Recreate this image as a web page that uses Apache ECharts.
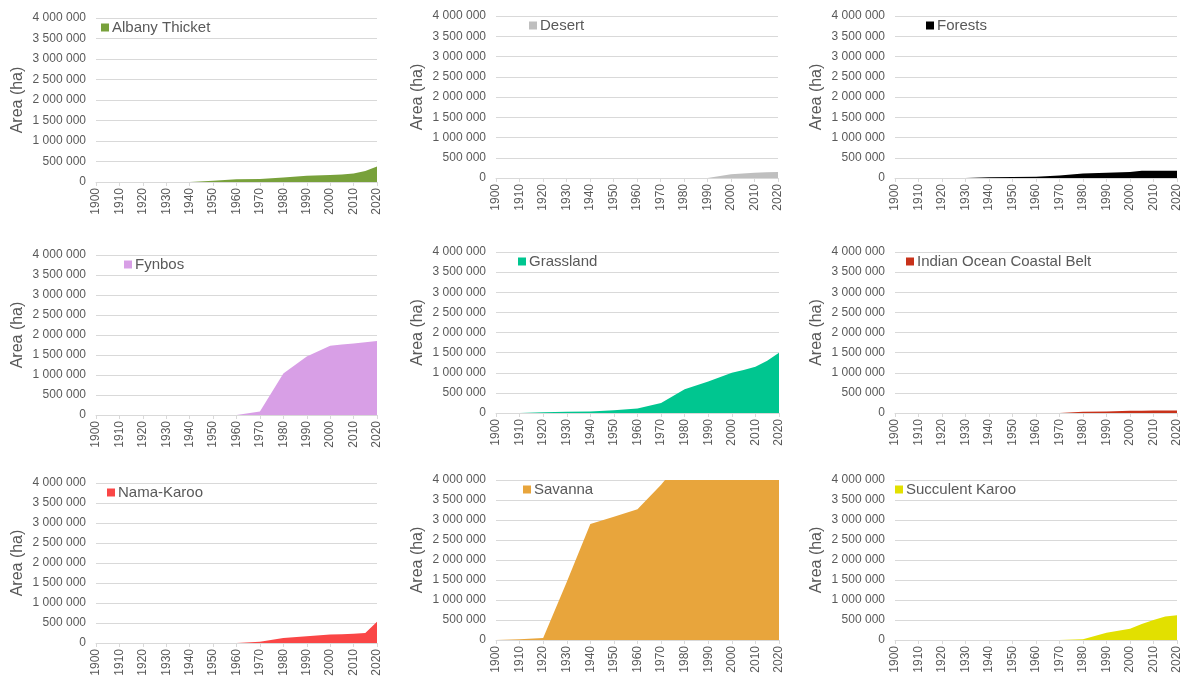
<!DOCTYPE html>
<html>
<head>
<meta charset="utf-8">
<script src="https://cdn.jsdelivr.net/npm/echarts@6/dist/echarts.min.js"></script>
<style>
  html, body { margin: 0; padding: 0; background: #fff; }
  #chart { width: 1184px; height: 680px; }
</style>
</head>
<body>
<div id="chart"></div>
<script>
// sample years shared by every biome series
const years = [1900, 1910, 1920, 1930, 1940, 1950, 1960, 1970, 1980, 1990, 2000, 2005, 2010, 2015, 2020];

const biomeNames = ['Albany Thicket', 'Desert', 'Forests', 'Fynbos', 'Grassland',
  'Indian Ocean Coastal Belt', 'Nama-Karoo', 'Savanna', 'Succulent Karoo'];

// area (ha) per biome
const albanyThicket = [0, 0, 0, 0, 0, 30000, 70000, 75000, 110000, 150000, 170000, 185000, 210000, 270000, 380000];
const desert = [0, 0, 0, 0, 0, 0, 0, 0, 0, 0, 90000, 110000, 130000, 140000, 150000];
const forests = [0, 0, 0, 0, 20000, 25000, 30000, 60000, 110000, 130000, 150000, 180000, 180000, 180000, 180000];
const fynbos = [0, 0, 0, 0, 0, 0, 0, 85000, 1040000, 1460000, 1730000, 1760000, 1790000, 1820000, 1850000];
const grassland = [0, 3000, 20000, 30000, 40000, 70000, 110000, 250000, 590000, 780000, 1000000, 1070000, 1150000, 1300000, 1500000];
const indianOcean = [0, 0, 0, 0, 0, 0, 0, 0, 30000, 35000, 55000, 58000, 60000, 60000, 60000];
const namaKaroo = [0, 0, 0, 0, 0, 0, 0, 30000, 125000, 170000, 210000, 220000, 230000, 250000, 530000];
const savanna = [0, 20000, 50000, 1450000, 2900000, 3080000, 3270000, 3880000, 4600000, 5000000, 5300000, 5450000, 5550000, 5650000, 5750000];
const succulentKaroo = [0, 0, 0, 0, 0, 0, 0, 0, 20000, 180000, 280000, 400000, 500000, 590000, 620000];

const biomeValues = [albanyThicket, desert, forests, fynbos, grassland, indianOcean, namaKaroo, savanna, succulentKaroo];
const biomeColors = ['#78a13b', '#bfbfbf', '#000000', '#d89fe6', '#00c690', '#c8321a', '#fa4646', '#e8a53c', '#e2e000'];

// panel boxes: [left, top, width, height]
const panels = [
  [96, 18, 281, 164], [496, 16, 282, 162], [895, 16, 282, 162],
  [96, 255, 281, 160], [496, 252, 283, 161], [895, 252, 282, 161],
  [96, 483, 281, 160], [496, 480, 283, 160], [895, 480, 282, 160]
];
// legend anchor [left, top]
const legendPos = [
  [96, 15], [524, 13], [921, 13],
  [119, 252], [513, 249], [901, 249],
  [102, 480], [518, 477], [890, 477]
];

const FONT = 'Liberation Sans, Arial, sans-serif';
const TEXT = '#595959';

function spaced(v) {
  return String(v).replace(/\B(?=(\d{3})+(?!\d))/g, ' ');
}

const chart = echarts.init(document.getElementById('chart'));

const grid = [], xAxis = [], yAxis = [], series = [], legend = [];
panels.forEach(function (p, i) {
  grid.push({ left: p[0], top: p[1], width: p[2], height: p[3] });
  xAxis.push({
    type: 'value', gridIndex: i, min: 1900, max: 2020, interval: 10,
    splitLine: { show: false },
    axisLine: { lineStyle: { color: '#d9d9d9' } },
    axisTick: { show: true, length: 4, lineStyle: { color: '#d9d9d9' } },
    axisLabel: { rotate: 90, margin: 6, color: TEXT, fontSize: 12, fontFamily: FONT,
      formatter: function (v) { return String(v); } }
  });
  yAxis.push({
    type: 'value', gridIndex: i, min: 0, max: 4000000, interval: 500000,
    name: 'Area (ha)', nameLocation: 'middle', nameGap: 70, nameRotate: 90,
    nameTextStyle: { color: TEXT, fontSize: 16, fontFamily: FONT },
    axisLine: { show: false }, axisTick: { show: false },
    splitLine: { lineStyle: { color: '#d9d9d9' } },
    axisLabel: { margin: 10, color: TEXT, fontSize: 12, fontFamily: FONT, formatter: spaced }
  });
  series.push({
    name: biomeNames[i], type: 'line', xAxisIndex: i, yAxisIndex: i,
    data: years.map(function (y, k) { return [y, biomeValues[i][k]]; }),
    symbol: 'none', clip: true, color: biomeColors[i],
    lineStyle: { width: 0 }, areaStyle: { color: biomeColors[i], opacity: 1 }
  });
  legend.push({
    data: [biomeNames[i]], left: legendPos[i][0], top: legendPos[i][1],
    icon: 'rect', itemWidth: 8, itemHeight: 8, itemGap: 4,
    textStyle: { color: TEXT, fontSize: 15, fontFamily: FONT, padding: [0, 0, 0, -2] }
  });
});

chart.setOption({
  animation: false,
  backgroundColor: '#ffffff',
  grid: grid, xAxis: xAxis, yAxis: yAxis, legend: legend, series: series
});
</script>
</body>
</html>
